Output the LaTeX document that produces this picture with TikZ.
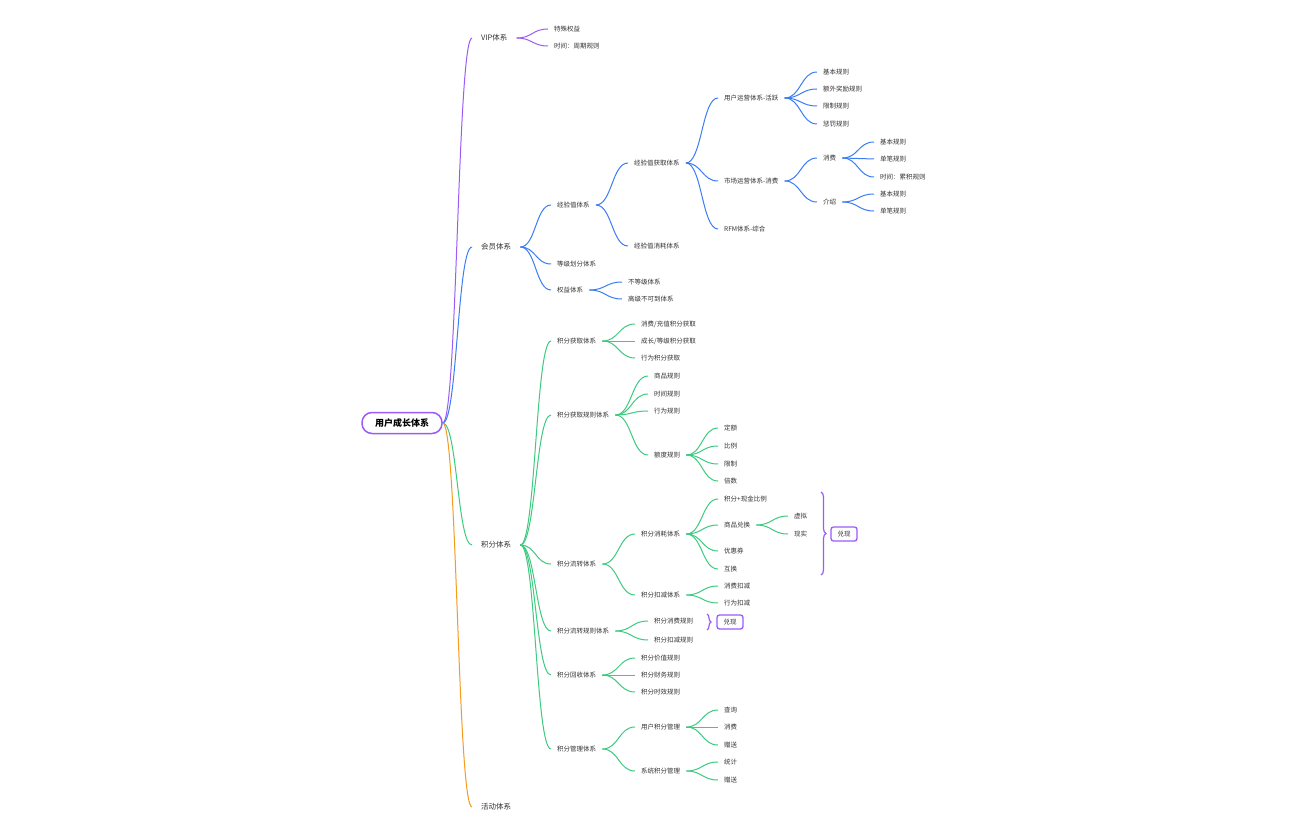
\documentclass[tikz,border=0pt]{standalone}
\usepackage{fontspec}
\setmainfont{Noto Sans CJK SC}
\usetikzlibrary{calc,decorations.pathreplacing}
\definecolor{cpur}{HTML}{9B5CF6}
\definecolor{cblu}{HTML}{3B7DF5}
\definecolor{cgrn}{HTML}{3CCB7F}
\definecolor{corg}{HTML}{F59B1E}
\definecolor{ctxt}{HTML}{333333}
\newcommand\cn[3]{\draw[#1] let \p1=(#2.east), \p2=(#3.west) in (\p1) .. controls ({(\x1+\x2)/2},\y1) and ({(\x1+\x2)/2},\y2) .. (\p2);}
\begin{document}
\begin{tikzpicture}[x=1pt,y=-1pt,
  t/.style={anchor=west, inner xsep=6pt, inner ysep=2pt, font=\fontsize{6.5}{7}\selectfont, text=ctxt},
  lone/.style={anchor=west, inner xsep=9pt, inner ysep=2pt, font=\fontsize{7.5}{8}\selectfont, text=ctxt},
  rootbox/.style={draw=cpur, line width=1.5pt, rounded corners=10pt, minimum width=80pt, minimum height=21pt, inner sep=2pt, fill=white, font=\bfseries\fontsize{9}{10}\selectfont, text=black},
  exbox/.style={draw=cpur, line width=1.3pt, rounded corners=2.5pt, minimum width=26pt, minimum height=14pt, inner sep=1pt, fill=white, font=\fontsize{6.5}{7}\selectfont, text=ctxt},
  lk/.style={line width=1pt},
  br/.style={draw=cpur, line width=1.2pt, decorate, decoration={brace, amplitude=5pt}}]
\useasboundingbox (0,0) rectangle (1296,840);
\fill[white] (0,0) rectangle (1296,840);
% root
\node[rootbox] (root) at (402,423) {用户成长体系};
% level 1
\node[lone] (v) at (472,38) {VIP体系};
\node[lone] (m) at (472,247) {会员体系};
\node[lone] (p) at (472,545) {积分体系};
\node[lone] (a) at (472,807) {活动体系};
\cn{cpur,lk}{root}{v}
\cn{cblu,lk}{root}{m}
\cn{cgrn,lk}{root}{p}
\cn{corg,lk}{root}{a}
% VIP
\node[t] (va) at (548,29) {特殊权益};
\node[t] (vb) at (548,46) {时间：周期规则};
\cn{cpur,lk}{v}{va}
\cn{cpur,lk}{v}{vb}
% member
\node[t] (m1) at (551,205) {经验值体系};
\node[t] (m2) at (551,264) {等级划分体系};
\node[t] (m3) at (551,290) {权益体系};
\foreach \c in {m1,m2,m3} {\cn{cblu,lk}{m}{\c}}
\node[t] (m11) at (628,163) {经验值获取体系};
\node[t] (m12) at (628,246) {经验值消耗体系};
\foreach \c in {m11,m12} {\cn{cblu,lk}{m1}{\c}}
\node[t] (m111) at (718,98) {用户运营体系-活跃};
\node[t] (m112) at (718,181) {市场运营体系-消费};
\node[t] (m113) at (718,229) {RFM体系-综合};
\foreach \c in {m111,m112,m113} {\cn{cblu,lk}{m11}{\c}}
\node[t] (ua) at (817,72) {基本规则};
\node[t] (ub) at (817,89) {额外奖励规则};
\node[t] (uc) at (817,106) {限制规则};
\node[t] (ud) at (817,124) {惩罚规则};
\foreach \c in {ua,ub,uc,ud} {\cn{cblu,lk}{m111}{\c}}
\node[t] (sa) at (817,158) {消费};
\node[t] (sb) at (817,202) {介绍};
\foreach \c in {sa,sb} {\cn{cblu,lk}{m112}{\c}}
\node[t] (saa) at (874,142) {基本规则};
\node[t] (sab) at (874,159) {单笔规则};
\node[t] (sac) at (874,177) {时间：累积规则};
\foreach \c in {saa,sab,sac} {\cn{cblu,lk}{sa}{\c}}
\node[t] (sba) at (874,194) {基本规则};
\node[t] (sbb) at (874,211) {单笔规则};
\foreach \c in {sba,sbb} {\cn{cblu,lk}{sb}{\c}}
\node[t] (m31) at (622,282) {不等级体系};
\node[t] (m32) at (622,299) {高级不可到体系};
\foreach \c in {m31,m32} {\cn{cblu,lk}{m3}{\c}}
% points
\node[t] (p1) at (551,341) {积分获取体系};
\node[t] (p2) at (551,415) {积分获取规则体系};
\node[t] (p3) at (551,564) {积分流转体系};
\node[t] (p4) at (551,631) {积分流转规则体系};
\node[t] (p5) at (551,675) {积分回收体系};
\node[t] (p6) at (551,749) {积分管理体系};
\foreach \c in {p1,p2,p3,p4,p5,p6} {\cn{cgrn,lk}{p}{\c}}
\node[t] (p1a) at (635,324) {消费/充值积分获取};
\node[t] (p1b) at (635,341) {成长/等级积分获取};
\node[t] (p1c) at (635,358) {行为积分获取};
\foreach \c in {p1a,p1b,p1c} {\cn{cgrn,lk}{p1}{\c}}
\node[t] (p2a) at (648,376) {商品规则};
\node[t] (p2b) at (648,394) {时间规则};
\node[t] (p2c) at (648,411) {行为规则};
\node[t] (p2d) at (648,455) {额度规则};
\foreach \c in {p2a,p2b,p2c,p2d} {\cn{cgrn,lk}{p2}{\c}}
\node[t] (qa) at (718,428) {定额};
\node[t] (qb) at (718,446) {比例};
\node[t] (qc) at (718,464) {限制};
\node[t] (qd) at (718,481) {倍数};
\foreach \c in {qa,qb,qc,qd} {\cn{cgrn,lk}{p2d}{\c}}
\node[t] (p3a) at (635,534) {积分消耗体系};
\node[t] (p3b) at (635,595) {积分扣减体系};
\foreach \c in {p3a,p3b} {\cn{cgrn,lk}{p3}{\c}}
\node[t] (xa) at (718,499) {积分+现金比例};
\node[t] (xb) at (718,525) {商品兑换};
\node[t] (xc) at (718,551) {优惠券};
\node[t] (xd) at (718,569) {互换};
\foreach \c in {xa,xb,xc,xd} {\cn{cgrn,lk}{p3a}{\c}}
\node[t] (xba) at (788,516) {虚拟};
\node[t] (xbb) at (788,534) {现实};
\foreach \c in {xba,xbb} {\cn{cgrn,lk}{xb}{\c}}
\node[t] (ya) at (718,586) {消费扣减};
\node[t] (yb) at (718,603) {行为扣减};
\foreach \c in {ya,yb} {\cn{cgrn,lk}{p3b}{\c}}
\node[t] (p4a) at (648,621) {积分消费规则};
\node[t] (p4b) at (648,640) {积分扣减规则};
\foreach \c in {p4a,p4b} {\cn{cgrn,lk}{p4}{\c}}
\node[t] (p5a) at (635,658) {积分价值规则};
\node[t] (p5b) at (635,675) {积分财务规则};
\node[t] (p5c) at (635,692) {积分时效规则};
\foreach \c in {p5a,p5b,p5c} {\cn{cgrn,lk}{p5}{\c}}
\node[t] (p6a) at (635,727) {用户积分管理};
\node[t] (p6b) at (635,771) {系统积分管理};
\foreach \c in {p6a,p6b} {\cn{cgrn,lk}{p6}{\c}}
\node[t] (za) at (718,710) {查询};
\node[t] (zb) at (718,727) {消费};
\node[t] (zc) at (718,745) {赠送};
\foreach \c in {za,zb,zc} {\cn{cgrn,lk}{p6a}{\c}}
\node[t] (wa) at (718,762) {统计};
\node[t] (wb) at (718,780) {赠送};
\foreach \c in {wa,wb} {\cn{cgrn,lk}{p6b}{\c}}
% summaries
\coordinate (b1t) at (821,492);
\coordinate (b1b) at (821,575);
\draw[br] (b1t) -- (b1b);
\node[exbox] (ex1) at (844,534) {兑现};
\coordinate (b2t) at (707,614);
\coordinate (b2b) at (707,630);
\draw[br, decoration={brace, amplitude=4pt}] (b2t) -- (b2b);
\node[exbox] (ex2) at (730,622) {兑现};
\end{tikzpicture}
\end{document}
